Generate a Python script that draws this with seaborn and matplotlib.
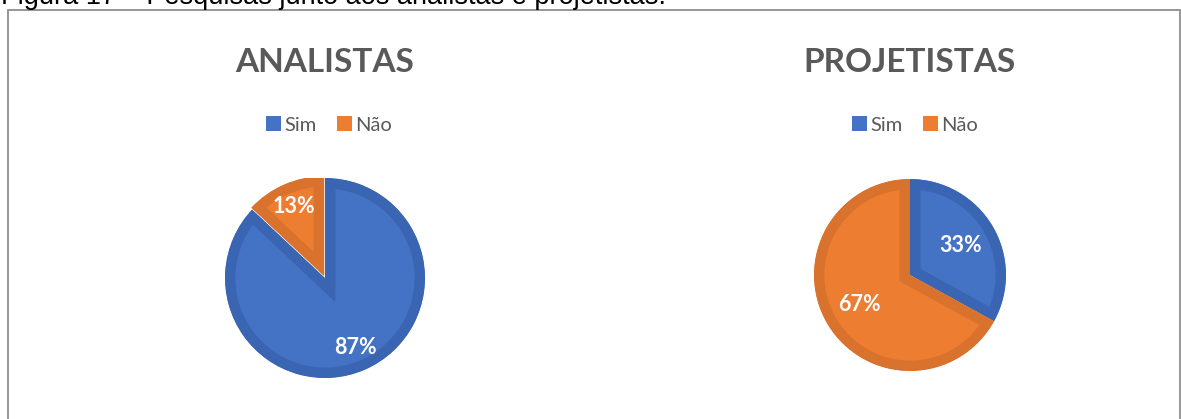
import matplotlib
matplotlib.use("Agg")
import matplotlib.pyplot as plt
from matplotlib.patches import Rectangle, Patch
import seaborn as sns

# Survey answers
categories = ["Sim", "Não"]
analistas = [87, 13]
projetistas = [33, 67]
titles = ["ANALISTAS", "PROJETISTAS"]
caption = "Figura 17 – Pesquisas junto aos analistas e projetistas."

sns.set_theme(style="white")
plt.rcParams["font.family"] = ["Lato", "DejaVu Sans"]

W, H = 1181, 419
fig = plt.figure(figsize=(W / 100, H / 100), dpi=100)
fig.patch.set_facecolor("white")

fill = sns.color_palette(["#4472C4", "#ED7D31"])
edge = ["#3A65B2", "#D8722D"]
text_gray = "#595959"


def fx(x):
    return x / W


def fy(y):
    return 1 - y / H


# caption above the frame
fig.text(fx(1), fy(4.5), caption, family="Liberation Sans", fontsize=19.5,
         color="black", ha="left", va="baseline")

# frame around the charts
fig.add_artist(Rectangle((fx(8), fy(440)), fx(1180) - fx(8), fy(10) - fy(440),
                         transform=fig.transFigure, fill=False,
                         edgecolor="#8E8E8E", linewidth=1.3))


def draw_pie(values, cx, cy, r, title, tx, ty, lx, ly, pctdist, explode):
    ax = fig.add_axes([fx(cx - r), fy(cy + r), (2 * r) / W, (2 * r) / H])
    wedges, _, autotexts = ax.pie(
        values, colors=fill, startangle=90, counterclock=False,
        explode=explode, autopct="%.0f%%", pctdistance=pctdist, frame=True,
        wedgeprops=dict(linewidth=15, joinstyle="miter"),
        textprops=dict(color="white", fontsize=15.5, fontweight="bold"))
    ax.set_xlim(-1, 1)
    ax.set_ylim(-1, 1)
    ax.set_aspect("equal")
    ax.axis("off")
    for w, ec in zip(wedges, edge):
        w.set_edgecolor(ec)
        # keep only the inner half of the thick outline
        w.set_clip_on(True)
        w.set_clip_path(w.get_path(), w.get_transform())
    fig.text(fx(tx), fy(ty), title, fontsize=24, fontweight="bold",
             color=text_gray, ha="center", va="center")
    handles = [Patch(facecolor=c, edgecolor="none") for c in fill]
    fig.legend(handles, categories, loc="center",
               bbox_to_anchor=(fx(lx), fy(ly)), ncol=2, frameon=False,
               handlelength=0.75, handleheight=0.75, handletextpad=0.15,
               columnspacing=1.0, fontsize=14.5, labelcolor=text_gray,
               borderaxespad=0, borderpad=0)


draw_pie(analistas, 325, 278, 100, titles[0], 325, 62, 329, 125, 0.76,
         explode=[0, 0.02])
draw_pie(projetistas, 910, 275, 96, titles[1], 910, 62, 915, 125, 0.61,
         explode=[0, 0])

fig.savefig("out.png", dpi=100, facecolor="white")
